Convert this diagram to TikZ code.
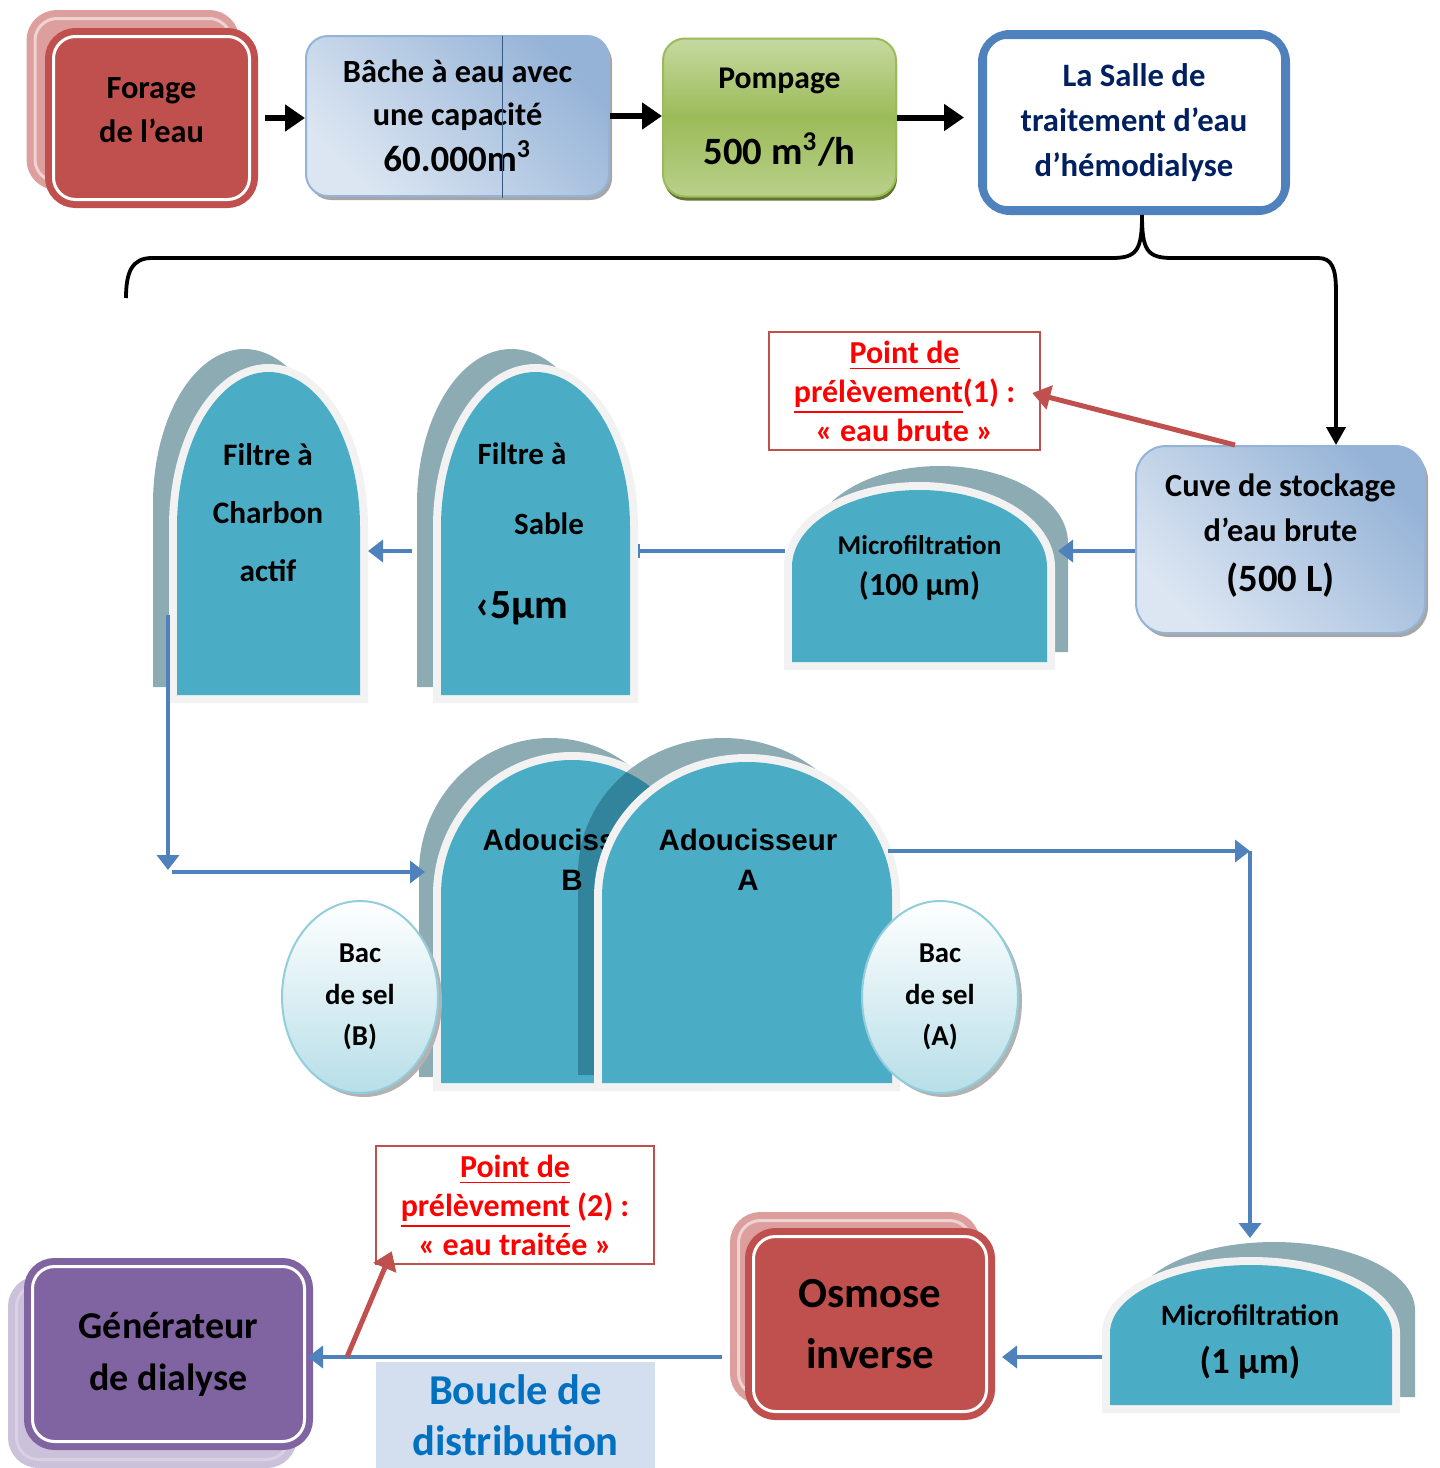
\documentclass[tikz,border=0pt]{standalone}
\usepackage{fontspec}
\setmainfont{Carlito}
\newfontfamily\arialfont{Liberation Sans}
\usetikzlibrary{arrows.meta,positioning,shapes.geometric,shadows}

\definecolor{brick}{HTML}{C0504D}
\definecolor{skyA}{HTML}{DCE6F2}
\definecolor{skyB}{HTML}{95B3D7}
\definecolor{leafA}{HTML}{C6D9A0}
\definecolor{leafB}{HTML}{9BBB59}
\definecolor{leafC}{HTML}{5F7530}
\definecolor{steel}{HTML}{4F81BD}
\definecolor{navyblue}{HTML}{002060}
\definecolor{tealf}{HTML}{4BACC6}
\definecolor{tealdk}{HTML}{31849B}
\definecolor{slate}{HTML}{8DABB3}
\definecolor{rim}{HTML}{F2F2F2}
\definecolor{plum}{HTML}{8064A2}
\definecolor{pale}{HTML}{D3DFEE}
\definecolor{ink}{HTML}{0070C0}
\definecolor{saltA}{HTML}{B7DEE8}
\definecolor{saltB}{HTML}{92CDDC}

% arch: left, right, top, bottom, vertical radius
\newcommand{\archpath}[5]{(#1,#4) -- (#1,{#3+#5}) arc[start angle=180, end angle=360, x radius={(#2-#1)/2}, y radius=#5] -- (#2,#4) -- cycle}

\begin{document}
\begin{tikzpicture}[x=0.1mm,y=-0.1mm]
\tikzstyle{twin}=[rounded corners=2.2mm, line width=0.7mm, double distance=0.3mm, inner sep=0pt, align=center]
\tikzstyle{tank}=[rounded corners=2.2mm, draw=skyB, line width=0.2mm, top color=skyB, bottom color=skyA, shading angle=-45, drop shadow={shadow xshift=0.3mm, shadow yshift=-0.4mm, fill=gray!70, opacity=1}, inner sep=0pt, align=center]
\tikzstyle{spot}=[draw=brick, line width=0.25mm, fill=white, text=red, inner sep=0pt, align=center, font=\fontsize{9.1}{11.1}\selectfont\bfseries]
\tikzstyle{txt}=[inner sep=0pt, align=center]
\tikzstyle{salt}=[ellipse, draw=saltB, line width=0.2mm, top color=white, bottom color=saltA, drop shadow={shadow xshift=0.4mm, shadow yshift=-0.4mm, fill=black!30, opacity=1}, inner sep=0pt, align=center, minimum width=15.6mm, minimum height=19.2mm, font=\fontsize{8.2}{11.8}\selectfont\bfseries]
\tikzstyle{bolt}=[->, >={Triangle[length=2mm,width=2.6mm]}, line width=0.6mm, black]
\tikzstyle{pipe}=[->, >={Triangle[length=1.5mm,width=2.2mm]}, line width=0.48mm, steel]
\tikzstyle{probe}=[->, >={Triangle[length=1.8mm,width=2.4mm]}, line width=0.5mm, brick]

\useasboundingbox (0,0) rectangle (1440,1468);

% top row
\node[twin, draw=brick!55, fill=brick!55, double=brick!25, minimum width=19.6mm, minimum height=16.3mm] (A0) at (133,100) {};
\node[twin, draw=brick, fill=brick, double=white, minimum width=19.6mm, minimum height=16.3mm] (A) at (151.5,118) {};
\node[txt, font=\fontsize{9.2}{12.5}\selectfont\bfseries] (A1) at ([yshift=0.8mm]A.center) {Forage\\de l’eau};
\node[tank, minimum width=30.3mm, minimum height=16mm, font=\fontsize{9.2}{12.2}\selectfont\bfseries] (B) at (457.5,116) {Bâche à eau avec\\une capacité\\[0.8pt]{\fontsize{10.5}{12.2}\selectfont 60.000m\textsuperscript{3}}};
\draw[steel!70!black, line width=0.1mm] (502,36) -- (502,198);
\node[draw=leafB, line width=0.2mm, rounded corners=2.2mm, top color=leafA, bottom color=leafA!70!leafB, middle color=leafB, drop shadow={shadow xshift=0.1mm, shadow yshift=-0.4mm, fill=leafC, opacity=1}, inner sep=0pt, align=center, minimum width=23.3mm, minimum height=15.8mm, font=\fontsize{9}{21.6}\selectfont\bfseries] (C) at (779.5,117.5) {Pompage\\{\fontsize{11}{21.6}\selectfont 500 m\textsuperscript{3}/h}};
\node[draw=steel, line width=0.8mm, fill=white, rounded corners=2.8mm, inner sep=0pt, align=center, minimum width=30.4mm, minimum height=17.7mm, text=navyblue, font=\fontsize{9.3}{12.8}\selectfont\bfseries] (D) at (1134,122.5) {La Salle de\\traitement d’eau\\d’hémodialyse};
\draw[steel, line width=0.2mm, rounded corners=2mm] ([shift={(8,8)}]D.north west) rectangle ([shift={(-8,-8)}]D.south east);

\path (A.east) edge[bolt, shorten <=1.2mm] (A.east -| B.west)
      (B.east) edge[bolt] (B.east -| C.west)
      (C.east) edge[bolt, shorten >=1.4mm] (C.east -| D.west);

% brace
\coordinate (T) at (1142,215);
\coordinate (S) at (1336,292);
\draw[line width=0.38mm] (T) .. controls (1142,250) and (1137,258) .. (1112,258) -- (152,258) .. controls (132,258) and (126,272) .. (126,298);

% storage and sampling point 1
\node[tank, rounded corners=3mm, minimum width=28.9mm, minimum height=18.7mm, font=\fontsize{9.2}{12.8}\selectfont\bfseries] (E) at (1280.5,539.5) {Cuve de stockage\\d’eau brute\\[1.4pt]{\fontsize{11}{12.8}\selectfont (500 L)}\\[-9pt]\mbox{}};
\draw[bolt, line width=0.38mm, >={Triangle[length=1.8mm,width=1.9mm]}] (T) .. controls (1142,250) and (1147,258) .. (1172,258) -- (1318,258) .. controls (1332,258) and (1336,268) .. (S) -- (S |- E.north);
\node[spot, minimum width=27.1mm, minimum height=11.8mm] (F) at (904.5,391) {\underline{Point de}\\\underline{prélèvement}(1) :\\« eau brute »};

% filters
\fill[slate] \archpath{812}{1068}{466}{652}{77};
\draw[rim, line width=1.6mm] \archpath{792}{1047}{490}{662}{77};
\fill[tealf] \archpath{792}{1047}{490}{662}{77};
\node[txt, font=\fontsize{7.7}{11.4}\selectfont\bfseries] (G) at (919.5,568) {Microfiltration\\{\fontsize{9.2}{11.4}\selectfont(100 µm)}};

\fill[slate] \archpath{417}{606}{349}{687}{155};
\draw[rim, line width=1.6mm] \archpath{441}{630}{372}{695}{155};
\fill[tealf] \archpath{441}{630}{372}{695}{155};
\node[txt, font=\fontsize{8.8}{16.5}\selectfont\bfseries] (H) at (522,534) {Filtre à\\[3.5pt]\hspace*{5.4mm}Sable\\[7.5pt]{\fontsize{11.8}{16.5}\selectfont ‹5µm}};

\fill[slate] \archpath{153}{336}{349}{687}{155};
\draw[rim, line width=1.6mm] \archpath{177}{360}{372}{695}{155};
\fill[tealf] \archpath{177}{360}{372}{695}{155};
\node[txt, font=\fontsize{8.9}{16.5}\selectfont\bfseries] (I) at (268,513) {Filtre à\\Charbon\\actif};

% softeners
\fill[slate] \archpath{419}{681}{738}{1077}{135};
\draw[rim, line width=1.6mm] \archpath{441}{703}{760}{1083}{135};
\fill[tealf] \archpath{441}{703}{760}{1083}{135};
\fill[slate] \archpath{578}{868}{738}{1075}{135};
\begin{scope}
\clip \archpath{441}{703}{760}{1083}{135};
\fill[tealdk] \archpath{578}{868}{738}{1075}{135};
\end{scope}
\node[txt, font=\arialfont\fontsize{8.4}{11.4}\selectfont\bfseries] (J) at (572,860) {Adoucisseur\\B};
\draw[rim, line width=1.6mm] \archpath{602}{892}{762}{1083}{135};
\fill[tealf] \archpath{602}{892}{762}{1083}{135};
\node[txt, font=\arialfont\fontsize{8.4}{11.4}\selectfont\bfseries] (K) at (748,860) {Adoucisseur\\A};

\node[salt] (L) at (360,997) {Bac\\de sel\\(B)};
\node[salt] (M) at (940,997) {Bac\\de sel\\(A)};

% bottom row
\fill[slate] \archpath{1133}{1415}{1242}{1397}{68};
\draw[rim, line width=1.6mm] \archpath{1110}{1392}{1265}{1405}{68};
\fill[tealf] \archpath{1110}{1392}{1265}{1405}{68};
\node[txt, font=\fontsize{8.4}{13.4}\selectfont\bfseries] (N) at (1250,1342) {Microfiltration\\{\fontsize{10.5}{13.4}\selectfont(1 µm)}};

\node[twin, draw=brick!55, fill=brick!55, double=brick!25, minimum width=23.3mm, minimum height=17.5mm] (O0) at (855,1308) {};
\node[twin, draw=brick, fill=brick, double=white, minimum width=23.3mm, minimum height=17.5mm, font=\fontsize{12.2}{17.4}\selectfont\bfseries] (O) at (870,1324) {Osmose\\inverse};
\node[spot, minimum width=27.8mm, minimum height=11.8mm] (P) at (515,1205) {\underline{Point de}\\\underline{prélèvement} (2) :\\« eau traitée »};
\node[twin, draw=plum!40, fill=plum!40, double=white!70!plum, minimum width=27.2mm, minimum height=17.5mm] (Q0) at (152.5,1372) {};
\node[twin, draw=plum, fill=plum, double=white, minimum width=27.2mm, minimum height=17.5mm, font=\fontsize{10.8}{14.8}\selectfont\bfseries] (Q) at (168.5,1354) {Générateur\\de dialyse};
\node[fill=pale, inner sep=0pt, align=center, minimum width=27.9mm, minimum height=10.6mm, text=ink, font=\fontsize{12.1}{14.5}\selectfont\bfseries] (R) at (515.5,1415) {Boucle de\\distribution};

% pipes
\coordinate (G1) at (1058,551);
\coordinate (G2) at (785,551);
\coordinate (H1) at (638,551);
\coordinate (H2) at (412,551);
\coordinate (I1) at (368,551);
\coordinate (I2) at (168,615);
\coordinate (I3) at (168,870);
\coordinate (J1) at (172,872);
\coordinate (J2) at (425,872);
\coordinate (K1) at (888,851);
\coordinate (K2) at (1250,851);
\coordinate (N1) at (1250,1238);
\coordinate (N2) at (1102,1357);
\coordinate (U) at (347,1357);

\path (E.west |- G1) edge[pipe] (G1)
      (G2) edge[pipe, -{Bar[width=1.4mm,line width=0.2mm]}] (H1)
      (H2) edge[pipe] (I1)
      (I2) edge[pipe] (I3)
      (J1) edge[pipe] (J2)
      (K1) edge[pipe] (K2)
      (K2) edge[pipe] (N1)
      (N2) edge[pipe, shorten >=1.2mm] (O.east |- N2)
      (O.west |- N2) edge[pipe, shorten <=2.85mm] (Q.east |- N2);

\path ([xshift=-4.55mm]E.north) edge[probe] ([xshift=-0.9mm, yshift=-0.2mm]F.east)
      (U) edge[probe] ([shift={(17,-14)}]P.south west);
\end{tikzpicture}
\end{document}
